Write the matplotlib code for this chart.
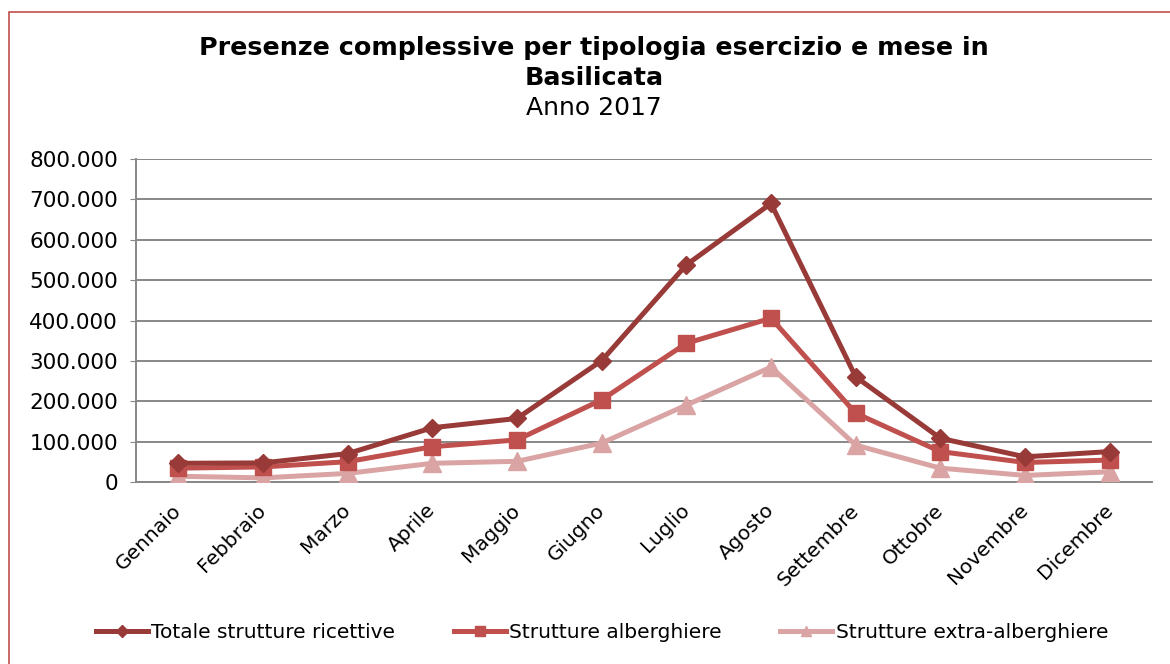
import matplotlib
matplotlib.use("Agg")
import matplotlib.pyplot as plt
from matplotlib.ticker import FuncFormatter, MultipleLocator
from matplotlib.patches import Rectangle

months = ["Gennaio", "Febbraio", "Marzo", "Aprile", "Maggio", "Giugno",
          "Luglio", "Agosto", "Settembre", "Ottobre", "Novembre", "Dicembre"]
totale = [47000, 48000, 71000, 135000, 158000, 301000,
          538000, 690000, 261000, 109000, 63000, 76000]
alberghiere = [35000, 38000, 51000, 88000, 105000, 204000,
               344000, 406000, 171000, 76000, 49000, 55000]
extra = [15000, 11000, 22000, 47000, 52000, 97000,
         191000, 285000, 92000, 35000, 17000, 26000]

plt.rcParams['font.family'] = ['DejaVu Sans']

fig = plt.figure(figsize=(11.7, 6.64), dpi=100)
ax = fig.add_axes([136/1170, 1-482.3/664, (1152-136)/1170, (482.3-159)/664])

x = list(range(len(months)))
l1, = ax.plot(x, totale, color='#983a37', lw=3.6, marker='D', ms=9.5,
              label='Totale strutture ricettive', zorder=5)
l2, = ax.plot(x, alberghiere, color='#c0504d', lw=3.6, marker='s', ms=12,
              label='Strutture alberghiere', zorder=4)
l3, = ax.plot(x, extra, color='#d9a4a3', lw=3.6, marker='^', ms=13,
              label='Strutture extra-alberghiere', zorder=3)

ax.set_xlim(-0.5, len(months) - 0.5)
ax.set_ylim(0, 800000)
ax.yaxis.set_major_locator(MultipleLocator(100000))
ax.yaxis.set_major_formatter(FuncFormatter(lambda v, p: f"{int(v):,}".replace(",", ".")))
ax.grid(axis='y', color='#878787', lw=1.4)
ax.set_axisbelow(True)
for s in ['top', 'right']:
    ax.spines[s].set_visible(False)
for s in ['left', 'bottom']:
    ax.spines[s].set_color('#878787')
    ax.spines[s].set_linewidth(1.4)
ax.tick_params(axis='y', length=4, color='#878787', labelsize=15.5, pad=9)
ax.tick_params(axis='x', length=0, labelsize=14.5)
ax.set_xticks(x)
ax.set_xticklabels(months, rotation=45, ha='right', rotation_mode='anchor')
for lab in ax.get_xticklabels():
    lab.set_verticalalignment('center')
ax.tick_params(axis='x', pad=18)

tx = 594 / 1170
fig.text(tx, 1-48/664, "Presenze complessive per tipologia esercizio e mese in",
         ha='center', va='center', fontsize=18.3, fontweight='bold')
fig.text(tx, 1-78/664, "Basilicata", ha='center', va='center',
         fontsize=18.3, fontweight='bold')
fig.text(tx, 1-108/664, "Anno 2017", ha='center', va='center', fontsize=18)

leg = fig.legend(handles=[l1, l2, l3], loc='center', bbox_to_anchor=(0.5145, 1-633/664),
                 ncol=3, frameon=False, fontsize=14.5, handlelength=2.6,
                 handletextpad=0.15, columnspacing=2.9, markerscale=0.6)

fig.patches.append(Rectangle((9/1170, -0.01), 1.05, 1 - 12/664 + 0.01,
                             transform=fig.transFigure, fill=False,
                             edgecolor='#c0504d', lw=1.2))

fig.savefig("out.png", dpi=100)
